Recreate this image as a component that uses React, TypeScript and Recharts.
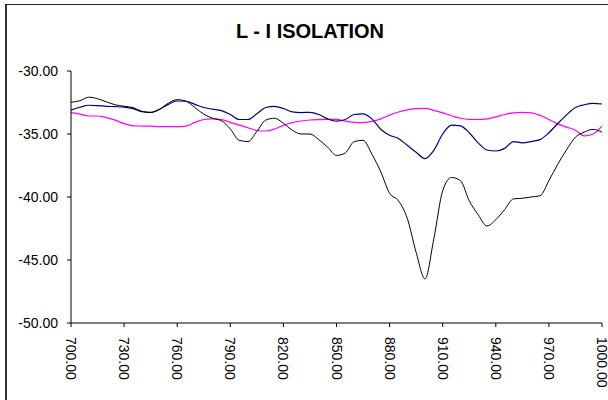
import React from "react";
import { LineChart, Line, XAxis, YAxis } from "recharts";

// frequency grid (MHz)
const freqs = [
  700, 705, 710, 715, 720, 725, 730, 735, 740, 745, 750, 755, 760, 765, 770,
  775, 780, 785, 790, 795, 800, 805, 810, 815, 820, 825, 830, 835, 840, 845,
  850, 855, 860, 865, 870, 875, 880, 885, 890, 895, 900, 905, 910, 915, 920,
  925, 930, 935, 940, 945, 950, 955, 960, 965, 970, 975, 980, 985, 990, 995,
  1000,
];

const blackSeries = [
  -32.48, -32.36, -32.08, -32.2, -32.45, -32.68, -32.8, -32.9, -33.2, -33.3,
  -33.05, -32.55, -32.27, -32.4, -32.9, -33.43, -33.75, -33.95, -34.6, -35.5,
  -35.6, -34.8, -33.9, -33.75, -34.15, -34.7, -35.0, -35.0, -35.45, -36.05,
  -36.7, -36.5, -35.6, -35.5, -36.6, -38.0, -39.7, -40.3, -41.7, -44.4,
  -46.5, -43.3, -39.5, -38.45, -38.7, -40.3, -41.4, -42.3, -41.8, -41.0,
  -40.15, -40.1, -40.0, -39.9, -38.7, -37.4, -36.25, -35.25, -34.85, -34.63,
  -34.87,
];

const blueSeries = [
  -33.1, -32.88, -32.72, -32.75, -32.8, -32.83, -32.87, -32.98, -33.23, -33.28,
  -33.04, -32.65, -32.38, -32.4, -32.65, -32.9, -33.03, -33.15, -33.45, -33.85,
  -33.85, -33.4, -32.9, -32.8, -32.98, -33.25, -33.3, -33.28, -33.45, -33.8,
  -33.98, -33.85, -33.45, -33.4, -33.8, -34.62, -35.1, -35.35, -35.9, -36.45,
  -36.95, -36.3, -35.0, -34.3, -34.35, -34.9, -35.7, -36.27, -36.35, -36.14,
  -35.6, -35.7, -35.6, -35.45, -34.9, -34.17, -33.48, -32.9, -32.68, -32.57,
  -32.62,
];

const magentaSeries = [
  -33.3, -33.42, -33.57, -33.57, -33.7, -33.9, -34.18, -34.35, -34.37, -34.38,
  -34.42, -34.42, -34.42, -34.37, -34.08, -33.85, -33.8, -33.86, -34.08, -34.3,
  -34.5, -34.72, -34.76, -34.6, -34.32, -34.1, -33.97, -33.89, -33.86, -33.84,
  -33.84, -33.98, -34.08, -34.1, -34.0, -33.8, -33.5, -33.25, -33.08, -32.98,
  -32.97, -33.12, -33.32, -33.55, -33.75, -33.84, -33.85, -33.8, -33.64, -33.45,
  -33.33, -33.28, -33.33, -33.52, -33.85, -34.2, -34.45, -34.7, -35.15, -35.0,
  -34.37,
];

const xTicks = [700, 730, 760, 790, 820, 850, 880, 910, 940, 970, 1000];
const yTicks = [-50, -45, -40, -35, -30];

const chartData = freqs.map((f, i) => ({
  freq: f,
  black: blackSeries[i],
  blue: blueSeries[i],
  magenta: magentaSeries[i],
}));

const font = "'Liberation Sans', Arial, sans-serif";

// rotated x tick labels, reading top to bottom
const XTick = ({ x, y, payload }: any) => (
  <text
    transform={`translate(${x}, ${y + 8}) rotate(90)`}
    textAnchor="start"
    dominantBaseline="central"
    fontSize={14}
    fontFamily={font}
    fill="#000"
  >
    {Number(payload.value).toFixed(2)}
  </text>
);

const App = () => {
  return (
    <div
      style={{
        position: "absolute",
        left: 0,
        top: 0,
        width: 608,
        height: 400,
        overflow: "hidden",
        background: "#fff",
      }}
    >
      {/* outer frame, only top and left edges visible */}
      <div
        style={{
          position: "absolute",
          left: 5,
          top: 4,
          width: 700,
          height: 500,
          borderLeft: "2px solid #333",
          borderTop: "1.5px solid #222",
        }}
      />
      <div
        style={{
          position: "absolute",
          left: 160,
          top: 21,
          width: 300,
          textAlign: "center",
          fontFamily: font,
          fontWeight: "bold",
          fontSize: 20,
          lineHeight: "20px",
          color: "#000",
        }}
      >
        L - I ISOLATION
      </div>
      <div style={{ position: "absolute", left: 0, top: 0 }}>
        <LineChart
          width={608}
          height={400}
          data={chartData}
          margin={{ top: 71, right: 6, left: 11, bottom: 7 }}
        >
          <XAxis
            dataKey="freq"
            type="number"
            domain={[700, 1000]}
            ticks={xTicks}
            interval={0}
            height={70}
            tickSize={4}
            stroke="#000"
            tick={<XTick />}
          />
          <YAxis
            type="number"
            domain={[-50, -30]}
            ticks={yTicks}
            interval={0}
            width={60}
            tickSize={4}
            tickMargin={9}
            stroke="#000"
            tick={{ fill: "#000", fontSize: 14, fontFamily: font }}
            tickFormatter={(v: number) => v.toFixed(2)}
          />
          <Line
            type="monotone"
            dataKey="magenta"
            stroke="#FF00FF"
            strokeWidth={1.2}
            dot={false}
            isAnimationActive={false}
          />
          <Line
            type="monotone"
            dataKey="blue"
            stroke="#000080"
            strokeWidth={1.2}
            dot={false}
            isAnimationActive={false}
          />
          <Line
            type="monotone"
            dataKey="black"
            stroke="#000"
            strokeWidth={1}
            dot={false}
            isAnimationActive={false}
          />
        </LineChart>
      </div>
    </div>
  );
};

export default App;
